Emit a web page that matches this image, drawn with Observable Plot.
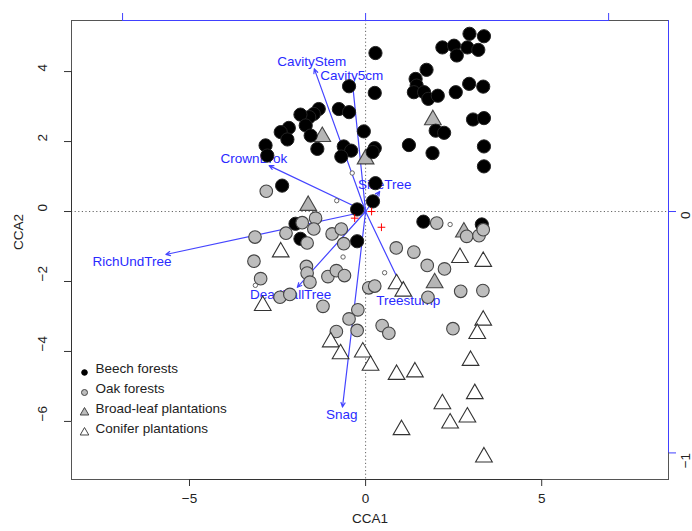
<!DOCTYPE html>
<html><head><meta charset="utf-8">
<script src="https://cdn.jsdelivr.net/npm/d3@7"></script>
<script src="https://cdn.jsdelivr.net/npm/@observablehq/plot@0.6"></script>
<style>
html,body{margin:0;padding:0;background:#fff;}
#chart{width:692px;height:531px;overflow:hidden;}
</style></head><body><div id="chart"></div>
<script>
// ---- site scores (CCA1, CCA2) ----
const beech = [[0.28,4.53],[2.95,5.08],[3.36,5.01],[2.18,4.69],[2.51,4.74],[2.59,4.46],[2.89,4.69],[3.2,4.62],
[1.73,4.05],[-0.47,3.58],[0.26,3.39],[1.42,3.79],[1.45,3.6],[1.37,3.41],[1.66,3.41],[1.78,3.22],[2.05,3.31],[2.56,3.41],
[2.94,3.65],[3.34,3.57],[3.05,2.63],[3.36,2.67],[1.99,2.31],[2.23,2.25],[1.23,1.9],[1.9,1.67],[3.36,1.86],[3.36,1.29],
[-0.05,2.29],[0.26,1.81],[0.2,1.7],[-0.62,1.86],[-0.41,1.74],[-0.69,1.57],[-0.76,2.93],[-0.47,2.84],[-1.33,2.93],
[-1.47,2.79],[-1.6,2.7],[-1.85,2.77],[-1.7,2.46],[-1.56,2.17],[-1.37,1.79],[-2.18,2.39],[-2.41,2.27],[-2.22,2.06],
[-2.84,1.89],[-2.79,1.6],[-2.37,0.74],[0.28,0.81],[0.21,0.29],[-0.24,0.06],[-0.24,-0.85],[-1.85,-0.78],[-1.99,-0.35],
[1.64,-0.29],[3.3,-0.37]];
const oak = [[-2.82,0.58],[-1.8,-0.32],[-1.42,-0.19],[-1.47,-0.5],[-2.26,-0.62],[-3.14,-0.73],[-1.66,-0.9],[-0.95,-0.64],
[-0.69,-0.5],[-0.62,-0.92],[-3.17,-1.42],[-2.98,-1.92],[-1.68,-1.57],[-1.66,-1.76],[-1.58,-2.02],[-1.07,-1.86],
[-0.83,-1.69],[-0.6,-1.83],[-2.43,-2.45],[-2.15,-2.37],[-1.21,-2.71],[0.09,-2.18],[0.26,-2.13],[-0.22,-2.81],
[-0.47,-3.07],[-0.24,-3.4],[-0.83,-3.43],[0.47,-3.26],[0.66,-3.48],[0.87,-1.04],[1.37,-1.16],[1.75,-1.54],[2.24,-1.64],
[1.77,-2.45],[2.7,-2.28],[3.33,-2.26],[2.48,-3.35],[2.02,-0.33],[2.87,-0.71],[3.22,-0.69],[3.34,-0.52]];
const broadleaf = [[-1.23,2.14],[0,1.5],[1.91,2.62],[-1.63,0.17],[2.79,-0.59],[1.96,-2.04]];
const conifer = [[-2.41,-1.16],[-2.92,-2.69],[0.88,-2.07],[1.07,-2.28],[-0.99,-3.73],[-0.71,-4.07],[-0.08,-4.02],
[0.14,-4.4],[0.88,-4.66],[1.4,-4.59],[2.68,-1.32],[3.34,-1.43],[3.34,-3.11],[3.17,-3.49],[2.98,-4.26],[3.1,-5.21],
[2.18,-5.5],[2.89,-5.88],[2.4,-6.05],[1.02,-6.24],[3.36,-7.02]];
// ---- species scores (small open circles) and centroids (red +) ----
const species = [[-0.38,1.1],[-0.82,0.31],[-0.64,-1.3],[0.54,-1.75],[-3.13,-2.11],[2.4,-0.37]];
const centroids = [[0.17,0],[-0.31,-0.19],[0.45,-0.45]];
// ---- biplot scores of environmental variables ----
const envVars = ["CavityStem","Cavity5cm","CrownBrok","RichUndTree","DeadFallTree","Snag","Treestump","SizeTree"];
const envCCA1 = [-0.211,-0.054,-0.397,-0.822,-0.281,-0.095,0.161,0.058];
const envCCA2 = [0.591,0.533,0.190,-0.178,-0.314,-0.810,-0.339,0.083];
const biplotMul = 6.9;
// ---- axes ----
const xTicks = [-5,0,5];
const yTicks = [-6,-4,-2,0,2,4];
const topTicks = [-1,0,1];
const rightTicks = [-1,0];
const legendLabels = ["Beech forests","Oak forests","Broad-leaf plantations","Conifer plantations"];

const xDomain = [-8.35, 8.6], yDomain = [-7.66, 5.46];
const W = 692, H = 531, mL = 71, mR = 24, mT = 20, mB = 52;
const pxX = (W - mL - mR) / (xDomain[1] - xDomain[0]);
const pxY = (H - mT - mB) / (yDomain[1] - yDomain[0]);
const FONT = "'Liberation Sans', Arial, Helvetica, sans-serif";
const FS = 13.5;
const fmt = d3.format("d");
const minus = d => fmt(d).replace("-", "\u2212");

const ctx = document.createElement("canvas").getContext("2d");
ctx.font = `${FS}px 'Liberation Sans'`;
// vegan-style label placement at arrow tips
const env = envVars.map((name, i) => {
  const x = envCCA1[i] * biplotMul, y = envCCA2[i] * biplotMul;
  const w = (ctx.measureText(name).width + 4) / pxX;
  const h = (FS * 0.72) / pxY;
  let ox = Math.sign(x) * (w / 2 + h / 4), oy = 0.75 * h * Math.sign(y);
  const b = y / x;
  const move = oy / b;
  if (isFinite(move) && Math.abs(move) <= Math.abs(ox)) ox = move; else oy = b * ox;
  return {name, x, y, lx: x + ox, ly: y + oy};
});

const legendStyles = [
  {symbol: "circle", fill: "black", stroke: "black", r: 2.8},
  {symbol: "circle", fill: "#bdbdbd", stroke: "#444", r: 3},
  {symbol: "triangle", fill: "#bdbdbd", stroke: "#444", r: 3.2},
  {symbol: "triangle", fill: "white", stroke: "#444", r: 3.2}
];
const legendMarks = legendLabels.flatMap((lab, i) => [
  Plot.dot([lab], {frameAnchor: "bottom-left", dx: 13, dy: -107 + i * 20, ...legendStyles[i], strokeWidth: 1}),
  Plot.text([lab], {frameAnchor: "bottom-left", dx: 24, dy: -107 + i * 20, text: d => d, textAnchor: "start", fill: "#222"})
]);

const chart = Plot.plot({
  width: W, height: H, marginLeft: mL, marginRight: mR, marginTop: mT, marginBottom: mB,
  x: {domain: xDomain}, y: {domain: yDomain},
  style: {fontFamily: FONT, fontSize: FS + "px", color: "#222", background: "white", overflow: "visible"},
  marks: [
    Plot.ruleX([0], {stroke: "#666", strokeDasharray: "1.2,2.4", strokeWidth: 1}),
    Plot.ruleY([0], {stroke: "#666", strokeDasharray: "1.2,2.4", strokeWidth: 1}),
    Plot.frame({stroke: "#555", strokeWidth: 1}),
    // bottom axis
    Plot.axisX(xTicks, {anchor: "bottom", tickSize: 7, tickPadding: 7, tickFormat: minus, label: null, stroke: "#333", fill: "#222"}),
    Plot.ruleY([yDomain[0]], {x1: d3.min(xTicks), x2: d3.max(xTicks), stroke: "#333"}),
    Plot.text(["CCA1"], {frameAnchor: "bottom", dy: 43, text: d => d, fill: "#222"}),
    // left axis
    Plot.axisY(yTicks, {anchor: "left", tickSize: 7, tickFormat: () => "", label: null, stroke: "#333"}),
    Plot.ruleX([xDomain[0]], {y1: d3.min(yTicks), y2: d3.max(yTicks), stroke: "#333"}),
    Plot.text(yTicks, {y: d => d, frameAnchor: "left", dx: -29, rotate: -90, text: minus, fill: "#222"}),
    Plot.text(["CCA2"], {frameAnchor: "left", dx: -53, rotate: -90, text: d => d, fill: "#222"}),
    // top axis (biplot scale)
    Plot.axisX(topTicks.map(t => t * biplotMul), {anchor: "top", tickSize: 8, tickFormat: () => "", label: null, stroke: "#4040ff"}),
    Plot.ruleY([yDomain[1]], {x1: d3.min(topTicks) * biplotMul, x2: d3.max(topTicks) * biplotMul, stroke: "#4040ff"}),
    // right axis (biplot scale)
    Plot.axisY(rightTicks.map(t => t * biplotMul), {anchor: "right", tickSize: 7, tickFormat: () => "", label: null, stroke: "#4040ff"}),
    Plot.ruleX([xDomain[1]], {y1: d3.min(rightTicks) * biplotMul, y2: yDomain[1], stroke: "#4040ff"}),
    Plot.text(rightTicks, {y: d => d * biplotMul, frameAnchor: "right", dx: 17, rotate: -90, text: minus, fill: "#222"}),
    // biplot arrows
    Plot.arrow(env, {x1: () => 0, y1: () => 0, x2: "x", y2: "y", stroke: "#4545ff", strokeWidth: 1.2, headLength: 6, headAngle: 50}),
    Plot.text(env, {x: "lx", y: "ly", text: "name", fill: "#2a2aff"}),
    // sites
    Plot.dot(broadleaf, {x: d => d[0], y: d => d[1], symbol: "triangle", r: 6.2, fill: "#b5b5b5", stroke: "#444", strokeWidth: 1.1}),
    Plot.dot(beech, {x: d => d[0], y: d => d[1], r: 6.6, fill: "black", stroke: "#222", strokeWidth: 1}),
    Plot.dot(oak, {x: d => d[0], y: d => d[1], r: 6.3, fill: "#bdbdbd", stroke: "#444", strokeWidth: 1.1}),
    Plot.dot(conifer, {x: d => d[0], y: d => d[1], symbol: "triangle", r: 6.2, fill: "white", stroke: "#333", strokeWidth: 1.1}),
    Plot.dot(species, {x: d => d[0], y: d => d[1], r: 2.2, fill: "white", stroke: "#555", strokeWidth: 0.9}),
    Plot.dot(centroids, {x: d => d[0], y: d => d[1], symbol: "plus", r: 2.6, fill: "none", stroke: "red", strokeWidth: 1}),
    ...legendMarks
  ]
});
document.getElementById("chart").appendChild(chart);
</script>
</body></html>
